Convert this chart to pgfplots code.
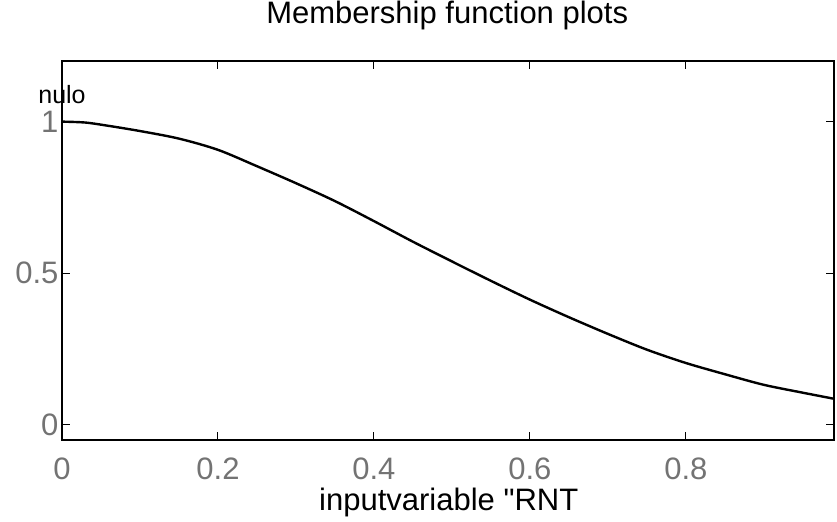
\documentclass[border=0pt]{standalone}
\usepackage{fontspec}
\setmainfont{Liberation Sans}[Ligatures=TeXOff]
\usepackage{pgfplots}
\pgfplotsset{compat=1.18}

% membership curve "nulo"
\pgfplotstableread{
x     y
0.00  1.000
0.03  0.997
0.06  0.986
0.10  0.969
0.15  0.944
0.20  0.907
0.25  0.853
0.30  0.797
0.35  0.738
0.40  0.672
0.45  0.604
0.50  0.539
0.55  0.475
0.60  0.413
0.65  0.355
0.70  0.300
0.75  0.248
0.80  0.204
0.85  0.167
0.90  0.132
0.95  0.106
0.99  0.086
}\nulodata

\begin{document}
\begin{tikzpicture}
\begin{axis}[
  scale only axis,
  width=772bp, height=379bp,
  xmin=0, xmax=0.99,
  ymin=-0.05, ymax=1.2,
  xtick={0,0.2,0.4,0.6,0.8},
  ytick={0,0.5,1},
  tick align=inside,
  major tick length=8bp,
  clip mode=individual,
  axis line style={line width=1.4bp},
  every tick/.style={black, line width=1bp},
  /pgf/number format/assume math mode=true,
  xticklabel style={font=\fontsize{31bp}{36bp}\selectfont, text=black!55, anchor=base, yshift=-39bp},
  yticklabel style={font=\fontsize{31bp}{36bp}\selectfont, text=black!55},
  title={Membership function plots},
  title style={font=\fontsize{31bp}{36bp}\selectfont, at={(axis description cs:0.499,1.084)}, anchor=base},
  xlabel={inputvariable "RNT},
  xlabel style={font=\fontsize{31bp}{36bp}\selectfont, at={(axis description cs:0.501,-0.185)}, anchor=base},
]
\addplot[black, line width=2.4bp, smooth] table[x=x, y=y] {\nulodata};
\node[anchor=base, font=\fontsize{25bp}{30bp}\selectfont, text=black] at (axis cs:0,1.06) {nulo};
\end{axis}
\pgfresetboundingbox
\path (-62bp,-82bp) rectangle (775bp,440bp);
\end{tikzpicture}
\end{document}
